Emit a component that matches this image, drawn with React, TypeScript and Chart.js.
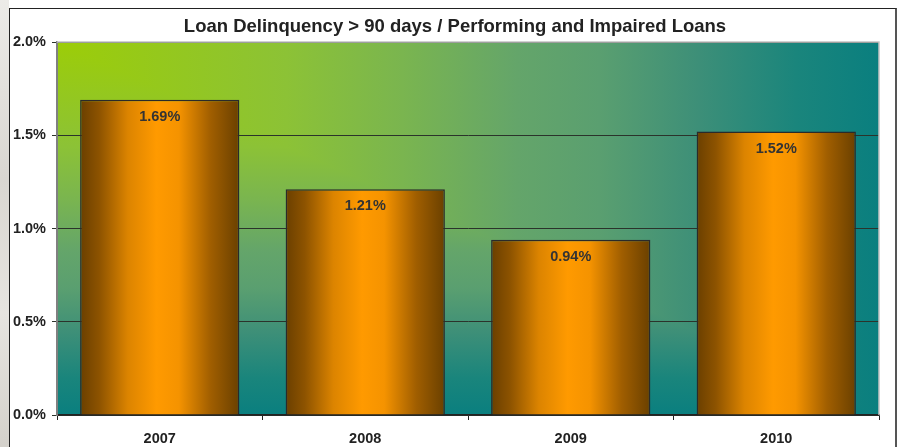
import React, { useEffect, useRef } from "react";
import { Chart, registerables } from "chart.js";

Chart.register(...registerables);

const TITLE = "Loan Delinquency > 90 days / Performing and Impaired Loans";
const YEARS = ["2007", "2008", "2009", "2010"];
const RATES = [1.69, 1.21, 0.94, 1.52];
const Y_MIN = 0;
const Y_MAX = 2;
const Y_STEP = 0.5;

const BAR_PCT = 0.775;
const FONT = "'Liberation Sans', Arial, sans-serif";

const BG_STOPS: [number, string][] = [
  [0, "#9ccd08"],
  [0.28, "#8cc236"],
  [0.42, "#7ab54f"],
  [0.56, "#64a56a"],
  [0.66, "#5a9f70"],
  [0.78, "#3d8f78"],
  [0.9, "#1a857c"],
  [1, "#0a7f7f"],
];

const bgPlugin = {
  id: "plotBg",
  beforeDraw(chart: any) {
    const { ctx, chartArea: a } = chart;
    if (!a) return;
    ctx.save();
    ctx.translate(a.left, a.top);
    ctx.scale(a.right - a.left, a.bottom - a.top);
    // "from corner" gradient: t = max(u, v)
    const gv = ctx.createLinearGradient(0, 0, 0, 1);
    const gh = ctx.createLinearGradient(0, 0, 1, 0);
    BG_STOPS.forEach(([t, c]) => {
      gv.addColorStop(t, c);
      gh.addColorStop(t, c);
    });
    ctx.fillStyle = gv;
    ctx.fillRect(0, 0, 1, 1);
    ctx.beginPath();
    ctx.moveTo(0, 0);
    ctx.lineTo(1, 0);
    ctx.lineTo(1, 1);
    ctx.closePath();
    ctx.fillStyle = gh;
    ctx.fill();
    ctx.restore();
  },
  afterDraw(chart: any) {
    const { ctx, chartArea: a } = chart;
    ctx.save();
    ctx.strokeStyle = "#c4c4c4";
    ctx.lineWidth = 1.5;
    ctx.beginPath();
    ctx.moveTo(a.left, a.top);
    ctx.lineTo(a.right, a.top);
    ctx.lineTo(a.right, a.bottom);
    ctx.stroke();
    // chart title
    ctx.font = `bold 18.5px ${FONT}`;
    ctx.fillStyle = "#222222";
    ctx.textAlign = "center";
    ctx.textBaseline = "alphabetic";
    ctx.fillText(TITLE, 455, 32);
    ctx.restore();
  },
  afterDatasetsDraw(chart: any) {
    const { ctx } = chart;
    const meta = chart.getDatasetMeta(0);
    ctx.save();
    ctx.font = `bold 14.5px ${FONT}`;
    ctx.fillStyle = "#333333";
    ctx.textAlign = "center";
    ctx.textBaseline = "middle";
    meta.data.forEach((bar: any, i: number) => {
      ctx.fillText(RATES[i].toFixed(2) + "%", bar.x, bar.y + 17);
    });
    ctx.restore();
  },
};

export default function App() {
  const ref = useRef<HTMLCanvasElement>(null);
  useEffect(() => {
    if (!ref.current) return;
    const chart = new Chart(ref.current, {
      type: "bar",
      data: {
        labels: YEARS,
        datasets: [
          {
            data: RATES,
            backgroundColor: (c: any) => {
              const ch = c.chart;
              const xs = ch.scales?.x;
              if (!xs || !ch.chartArea) return "#ff9900";
              const cx = xs.getPixelForValue(c.dataIndex);
              const half = ((xs.width / YEARS.length) * BAR_PCT) / 2;
              const g = ch.ctx.createLinearGradient(cx - half, 0, cx + half, 0);
              g.addColorStop(0, "#6a3f00");
              g.addColorStop(0.12, "#8d5300");
              g.addColorStop(0.3, "#dc8400");
              g.addColorStop(0.48, "#ff9a00");
              g.addColorStop(0.62, "#f59300");
              g.addColorStop(0.82, "#a05e00");
              g.addColorStop(1, "#6a4000");
              return g;
            },
            borderColor: "#2a2a2a",
            borderWidth: 1.5,
            barPercentage: BAR_PCT,
            categoryPercentage: 1,
          },
        ],
      },
      options: {
        animation: false,
        responsive: false,
        maintainAspectRatio: false,
        layout: { padding: { left: 0, right: 19, top: 42, bottom: 0 } },
        plugins: {
          legend: { display: false },
          tooltip: { enabled: false },
          title: { display: false },
        },
        scales: {
          x: {
            offset: true,
            grid: {
              offset: true,
              drawOnChartArea: false,
              drawTicks: true,
              tickLength: 5,
              color: "#222222",
            },
            border: { color: "#222222", width: 1.5 },
            ticks: {
              color: "#222222",
              padding: 10,
              font: { family: FONT, size: 14.5, weight: "bold" },
            },
            afterFit: (s: any) => {
              s.height = 32;
            },
          },
          y: {
            min: Y_MIN,
            max: Y_MAX,
            grid: {
              color: "#2b332b",
              lineWidth: 1,
              tickLength: 5,
            },
            border: { color: "#808080", width: 2 },
            ticks: {
              stepSize: Y_STEP,
              color: "#222222",
              padding: 6,
              font: { family: FONT, size: 14.5, weight: "bold" },
              callback: (v: any) => Number(v).toFixed(1) + "%",
            },
            afterFit: (s: any) => {
              s.width = 57;
            },
          },
        },
      },
      plugins: [bgPlugin],
    });
    return () => chart.destroy();
  }, []);

  return (
    <div
      style={{
        position: "fixed",
        left: 0,
        top: 0,
        width: 898,
        height: 447,
        background: "#ffffff",
        overflow: "hidden",
      }}
    >
      <div
        style={{
          position: "absolute",
          left: 0,
          top: 0,
          width: 9,
          height: 447,
          background: "linear-gradient(180deg, #ecebe8, #d9d6d1 40%, #e6e4e0 70%, #d4d1cb)",
        }}
      />
      <div
        style={{
          position: "absolute",
          left: 9,
          top: 8,
          width: 885,
          height: 460,
          border: "1px solid #222222",
          borderRightWidth: 2,
          borderRightColor: "#555555",
          background: "#ffffff",
        }}
      />
      <canvas
        ref={ref}
        width={898}
        height={447}
        style={{ position: "absolute", left: 0, top: 0, width: 898, height: 447 }}
      />
    </div>
  );
}
